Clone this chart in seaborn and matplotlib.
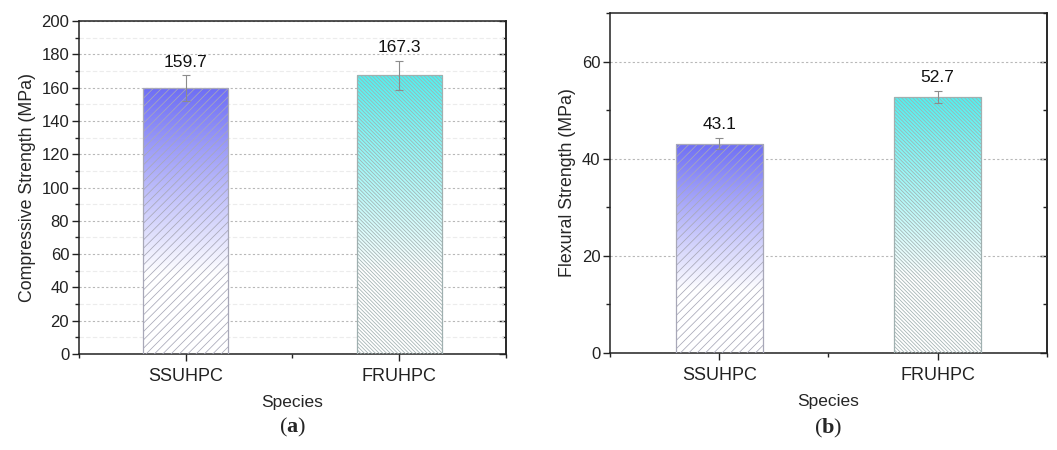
import numpy as np
import pandas as pd
import matplotlib
matplotlib.use("Agg")
import matplotlib.pyplot as plt
import seaborn as sns
from matplotlib.colors import LinearSegmentedColormap
from matplotlib.ticker import MultipleLocator, FixedLocator

# ---- data ----
species = ["SSUHPC", "FRUHPC"]
compressive = [159.7, 167.3]
compressive_err = [7.6, 8.7]
flexural = [43.1, 52.7]
flexural_err = [1.2, 1.3]
bar_colors = ["#6e6ef5", "#50f0f0"]
hatch_colors = ["#a8a8b8", "#a0b0b0"]
hatches = ["////", "\\" * 9]

sns.set_theme(style="white")
plt.rcParams["font.family"] = ["Liberation Sans", "DejaVu Sans"]
plt.rcParams["mathtext.fontset"] = "custom"
plt.rcParams["mathtext.rm"] = "Liberation Serif"
plt.rcParams["mathtext.bf"] = "Liberation Serif:bold"
plt.rcParams["hatch.linewidth"] = 0.55

fig = plt.figure(figsize=(10.57, 4.5), dpi=100)
axA = fig.add_axes([0.0747, 0.2133, 0.404, 0.74])
axB = fig.add_axes([0.5771, 0.2156, 0.4134, 0.7556])


def draw(ax, vals, errs, ylabel, ymax, major, minor, minor_grid, caption):
    df = pd.DataFrame({"Species": species, "val": vals})
    sns.barplot(data=df, x="Species", y="val", ax=ax, width=0.4,
                fill=False, errorbar=None, zorder=3)
    for i, p in enumerate(ax.patches):
        p.set_edgecolor(hatch_colors[i])
        p.set_linewidth(0.9)
        p.set_hatch(hatches[i])
        p.set_facecolor("none")
        p.set_zorder(4)
        x0, y0 = p.get_x(), p.get_y()
        w, h = p.get_width(), p.get_height()
        cmap = LinearSegmentedColormap.from_list(
            "g", [(0.0, "#ffffff"), (0.3, "#ffffff"), (1.0, bar_colors[i])], N=256)
        grad = np.linspace(1, 0, 256).reshape(-1, 1)
        im = ax.imshow(grad, extent=[x0, x0 + w, y0, y0 + h], aspect="auto",
                       cmap=cmap, vmin=0, vmax=1, zorder=2, origin="upper")
        im.set_clip_path(p)
        cx = x0 + w / 2
        ax.errorbar(cx, vals[i], yerr=errs[i], color="#8c8c8c", lw=0.8,
                    capsize=3, capthick=0.8, zorder=5)
        ax.annotate(f"{vals[i]:.1f}", (cx, vals[i] + errs[i]), xytext=(0, 4),
                    textcoords="offset points", ha="center", va="bottom",
                    fontsize=12.5, color="#111111")
    ax.set_xlim(-0.5, 1.5)
    ax.set_ylim(0, ymax)
    ax.yaxis.set_major_locator(MultipleLocator(major))
    ax.yaxis.set_minor_locator(MultipleLocator(minor))
    ax.xaxis.set_minor_locator(FixedLocator([-0.5, 0.5, 1.5]))
    ax.grid(axis="y", which="major", color="#b8b8b8", linestyle=(0, (2, 2)), lw=0.8, zorder=0)
    if minor_grid:
        ax.grid(axis="y", which="minor", color="#ececec", linestyle=(0, (4, 2)), lw=0.8, zorder=0)
    ax.set_axisbelow(True)
    for s in ax.spines.values():
        s.set_color("#222222")
        s.set_linewidth(1.1)
        s.set_visible(True)
    ax.tick_params(axis="both", which="major", direction="out", length=5, width=1,
                   colors="#222222", left=True, bottom=True)
    ax.tick_params(axis="both", which="minor", direction="out", length=3, width=1,
                   colors="#222222", left=True, bottom=True)
    ax.tick_params(axis="x", labelsize=13, pad=5)
    ax.tick_params(axis="y", labelsize=12, pad=2)
    sec = ax.secondary_yaxis("right")
    sec.yaxis.set_major_locator(MultipleLocator(major))
    sec.yaxis.set_minor_locator(MultipleLocator(minor))
    sec.tick_params(which="major", direction="in", length=5, width=1, labelright=False,
                    colors="#222222")
    sec.tick_params(which="minor", direction="in", length=3, width=1, colors="#222222")
    sec.spines["right"].set_color("#222222")
    sec.spines["right"].set_linewidth(1.1)
    ax.set_xlabel("Species", fontsize=12.5, labelpad=7)
    ax.set_ylabel(ylabel, fontsize=12.8, labelpad=4)
    ax.text(0.5, -0.222, caption, transform=ax.transAxes, ha="center", va="center",
            fontsize=16)


draw(axA, compressive, compressive_err, "Compressive Strength (MPa)", 200, 20, 10, True,
     r"$\mathrm{(}\mathbf{a}\mathrm{)}$")
draw(axB, flexural, flexural_err, "Flexural Strength (MPa)", 70, 20, 10, False,
     r"$\mathrm{(}\mathbf{b}\mathrm{)}$")

fig.savefig("out.png", dpi=100)
